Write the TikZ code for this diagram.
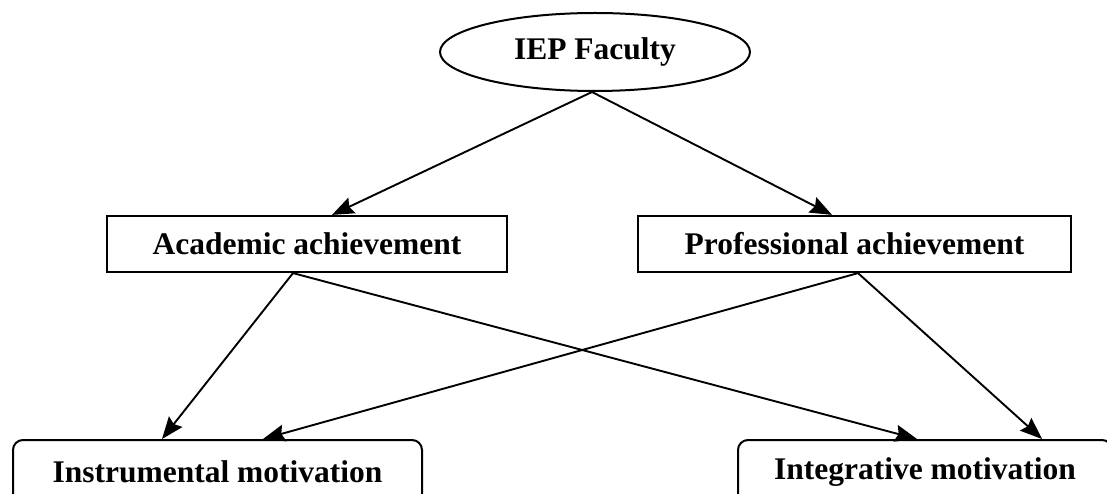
\documentclass[tikz,border=0pt]{standalone}
\usepackage{fontspec}
\setmainfont{Liberation Serif}
\usetikzlibrary{shapes.geometric,arrows.meta,calc}
\begin{document}
\begin{tikzpicture}[x=1pt,y=-1pt,
  lbl/.style={font=\fontsize{31.5}{36}\selectfont\bfseries, inner sep=0pt},
  sqbox/.style={lbl, draw, line width=2.2pt, rectangle, minimum height=56pt},
  rbox/.style={lbl, draw, line width=2pt, rectangle, rounded corners=10pt, minimum height=64pt},
  oval/.style={lbl, draw, line width=2pt, ellipse, minimum width=310pt, minimum height=78pt},
  arr/.style={line width=1.9pt, -{Stealth[length=22pt,width=17pt,inset=3pt]}}]
\useasboundingbox (0,0) rectangle (1107,494);
\clip (0,0) rectangle (1107,494);
\node[oval] (fac) at (595,52) {IEP Faculty};
\node[sqbox, minimum width=400pt] (acad) at (307,244) {Academic achievement};
\node[sqbox, minimum width=433pt] (prof) at (854.5,244) {Professional achievement};
\node[rbox, minimum width=409pt] (inst) at (217.5,472) {Instrumental motivation};
\node[rbox, minimum width=374pt] (integ) at (925,472) {Integrative motivation};
\draw[arr] ([xshift=-3pt]fac.south) -- ([xshift=25pt]acad.north);
\draw[arr] ([xshift=-3pt]fac.south) -- ([xshift=-22.5pt]prof.north);
\draw[arr] ([xshift=-14pt]acad.south) -- ([xshift=-55.5pt]inst.north);
\draw[arr] ([xshift=-14pt]acad.south) -- ([xshift=-8pt]integ.north);
\draw[arr] ([xshift=3.5pt]prof.south) -- ([xshift=45.5pt]inst.north);
\draw[arr] ([xshift=3.5pt]prof.south) -- ([xshift=117pt]integ.north);
\end{tikzpicture}
\end{document}
